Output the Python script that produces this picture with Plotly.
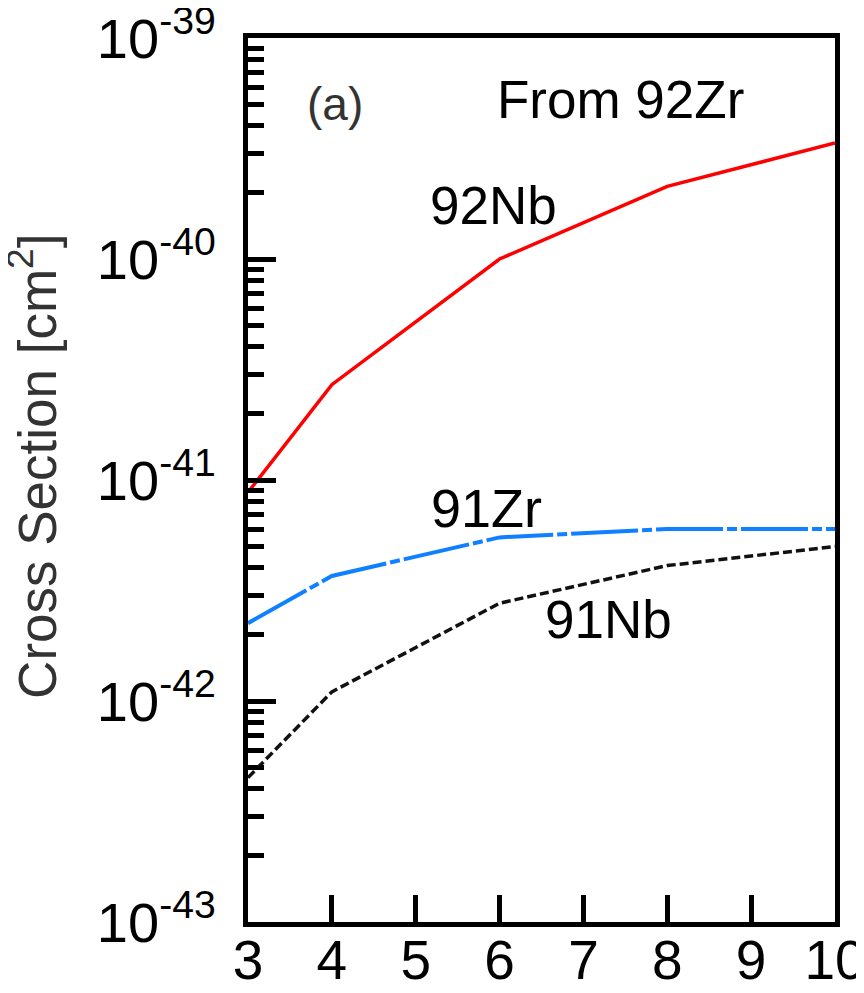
import numpy as np
import plotly.graph_objects as go

# Data (x: energy-like variable, y: cross section in cm^2)
x_vals = [3, 4, 6, 8, 10]
nb92 = [8.8e-42, 2.7e-41, 1.0e-40, 2.13e-40, 3.35e-40]
zr91 = [2.25e-42, 3.68e-42, 5.5e-42, 6.0e-42, 6.0e-42]
nb91 = [4.5e-43, 1.1e-42, 2.77e-42, 4.1e-42, 5.0e-42]

x_ticks = [3, 4, 5, 6, 7, 8, 9, 10]
y_exps = [-43, -42, -41, -40, -39]
y_tickvals = [10.0 ** e for e in y_exps]
y_ticktext = ["10<sup>%d</sup>" % e for e in y_exps]
minor_vals = [k * 10.0 ** e for e in y_exps[:-1] for k in range(2, 10)]

FONT = "Liberation Sans, Arial, sans-serif"

fig = go.Figure()
fig.add_trace(go.Scatter(x=x_vals, y=nb92, mode="lines", name="92Nb",
                         line=dict(color="#FF0000", width=3.5)))
fig.add_trace(go.Scatter(x=x_vals, y=zr91, mode="lines", name="91Zr",
                         line=dict(color="#0F80FF", width=4, dash="67px,4px,10px,4px")))
fig.add_trace(go.Scatter(x=x_vals, y=nb91, mode="lines", name="91Nb",
                         line=dict(color="#111111", width=3.5, dash="9px,4px")))

# page body adds a small offset; margins compensate
fig.update_layout(
    width=864, height=993,
    margin=dict(l=240, r=37, t=30, b=79, autoexpand=False),
    paper_bgcolor="white", plot_bgcolor="white",
    showlegend=False,
    font=dict(family=FONT, color="black"),
)

fig.update_xaxes(
    range=[3, 10], tickvals=x_ticks, ticktext=[str(v) for v in x_ticks],
    automargin=False, ticklabeloverflow="allow",
    showgrid=False, zeroline=False,
    showline=True, linecolor="black", linewidth=5, mirror=True,
    ticks="inside", ticklen=27, tickwidth=5, tickcolor="black",
    tickfont=dict(size=55, family=FONT, color="black"),
    ticklabelstandoff=-14,
)
fig.update_yaxes(
    type="log", range=[-43, -39],
    tickvals=y_tickvals, ticktext=y_ticktext,
    automargin=False, ticklabeloverflow="allow",
    showgrid=False, zeroline=False,
    showline=True, linecolor="black", linewidth=5, mirror=True,
    ticks="inside", ticklen=28, tickwidth=5, tickcolor="black",
    tickfont=dict(size=56, family=FONT, color="black"),
    ticklabelstandoff=16,
    minor=dict(tickvals=minor_vals, ticks="inside", ticklen=16, tickwidth=5,
               tickcolor="black", showgrid=False),
)

# Y-axis title
fig.add_annotation(text="Cross Section [cm<sup>2</sup>]", xref="paper", yref="paper",
                   x=-0.366, y=0.515, textangle=-90, showarrow=False,
                   xanchor="center", yanchor="middle",
                   font=dict(size=53, family=FONT, color="#333333"))

labels = [
    ("(a)", 4.04, -39.30, 46, "#333333"),
    ("From 92Zr", 7.44, -39.28, 53, "black"),
    ("92Nb", 5.93, -39.756, 53, "black"),
    ("91Zr", 5.85, -41.127, 54, "black"),
    ("91Nb", 7.30, -41.633, 53, "black"),
]
for txt, lx, ly, sz, col in labels:
    fig.add_annotation(text=txt, x=lx, y=ly, showarrow=False,
                       xanchor="center", yanchor="middle",
                       font=dict(size=sz, family=FONT, color=col))

fig.write_html("out.html")
